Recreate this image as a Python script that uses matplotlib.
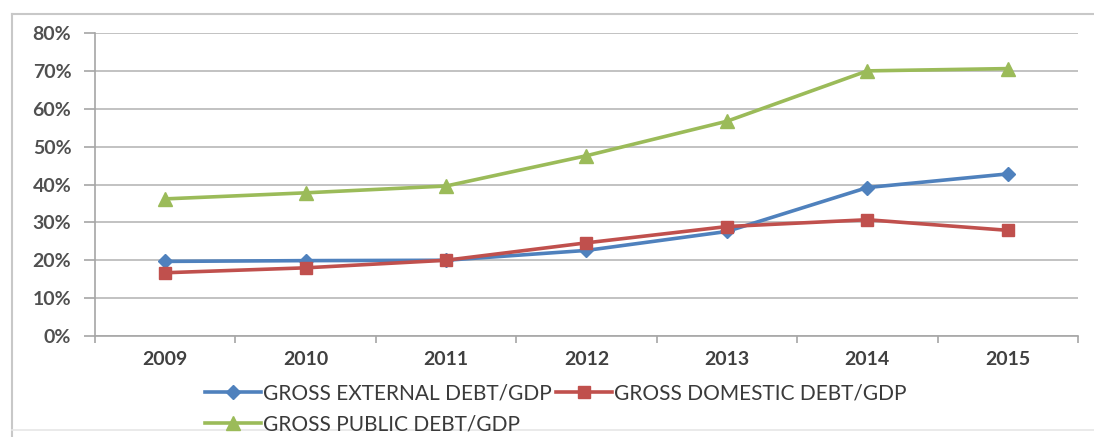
import numpy as np
import matplotlib.pyplot as plt
import matplotlib.ticker as ticker
from matplotlib.lines import Line2D

plt.rcParams['font.family'] = ['Lato', 'DejaVu Sans']

# Debt ratios, % of GDP
years = ['2009', '2010', '2011', '2012', '2013', '2014', '2015']
external = [19.7, 19.9, 20.0, 22.6, 27.6, 39.2, 42.8]
domestic = [16.7, 18.0, 20.0, 24.6, 28.9, 30.7, 27.9]
public = [36.2, 37.8, 39.6, 47.6, 56.7, 70.0, 70.6]

x = np.arange(len(years))

fig = plt.figure(figsize=(10.94, 4.37), dpi=100)
ax = fig.add_axes([0.0868, 0.2311, 0.8986, 0.6934])

l_ext, = ax.plot(x, external, color='#4F81BD', lw=2.6, marker='D', ms=7, label='GROSS EXTERNAL DEBT/GDP')
l_dom, = ax.plot(x, domestic, color='#C0504D', lw=2.6, marker='s', ms=9, label='GROSS DOMESTIC DEBT/GDP')
l_pub, = ax.plot(x, public, color='#9BBB59', lw=2.6, marker='^', ms=10, label='GROSS PUBLIC DEBT/GDP')

ax.set_xlim(-0.5, len(years) - 0.5)
ax.set_ylim(0, 80)
ax.yaxis.set_major_locator(ticker.MultipleLocator(10))
ax.yaxis.set_major_formatter(ticker.FuncFormatter(lambda v, p: f'{v:.0f}%'))
ax.set_xticks(x)
ax.set_xticklabels(years)
ax.xaxis.set_minor_locator(ticker.FixedLocator(np.arange(-0.5, len(years), 1.0)))

ax.grid(axis='y', color='#bdbdbd', lw=1.3)
ax.set_axisbelow(True)
for s in ['top', 'right']:
    ax.spines[s].set_visible(False)
for s in ['left', 'bottom']:
    ax.spines[s].set_color('#a6a6a6')
    ax.spines[s].set_linewidth(1.2)

ax.tick_params(axis='y', length=8, width=1.2, color='#a6a6a6', pad=9,
               labelsize=14, labelcolor='#505050')
ax.tick_params(axis='x', which='major', length=0, pad=11,
               labelsize=14, labelcolor='#404040')
ax.tick_params(axis='x', which='minor', length=5, width=1.2, color='#a6a6a6')
for lab in ax.get_xticklabels() + ax.get_yticklabels():
    lab.set_fontweight('bold')

# two entries on the first row, public debt alone on the second
leg = fig.legend([l_ext, l_pub, l_dom],
                 [l_ext.get_label(), l_pub.get_label(), l_dom.get_label()],
                 loc='upper left', bbox_to_anchor=(0.187, 0.122), ncol=2,
                 frameon=False, fontsize=15, handlelength=2.7,
                 handletextpad=0.1, columnspacing=0.2, labelspacing=0.5,
                 borderaxespad=0, borderpad=0)
for t in leg.get_texts():
    t.set_color('#3a3a3a')

# frame around the chart area
fig.add_artist(Line2D([12 / 1094, 12 / 1094], [0, 1 - 14 / 437],
                      transform=fig.transFigure, color='#c8c8c8', lw=1.5))
fig.add_artist(Line2D([12 / 1094, 1], [1 - 14 / 437, 1 - 14 / 437],
                      transform=fig.transFigure, color='#c8c8c8', lw=1.5))
fig.add_artist(Line2D([12 / 1094, 1], [7 / 437, 7 / 437],
                      transform=fig.transFigure, color='#e6e6e6', lw=1.2))

fig.savefig('out.png', dpi=100)
